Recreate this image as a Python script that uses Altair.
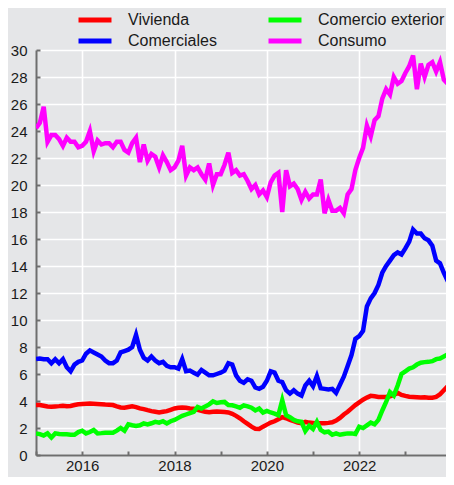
import altair as alt
import pandas as pd

# ---- data (monthly, starting January 2015) ----
start_year = 2015

vivienda = [
    3.7, 3.7, 3.65, 3.6, 3.58, 3.6, 3.62, 3.65, 3.62, 3.63, 3.7, 3.76,
    3.78, 3.8, 3.82, 3.8, 3.78, 3.76, 3.74, 3.73, 3.7, 3.6, 3.52, 3.5,
    3.55, 3.6, 3.55, 3.45, 3.4, 3.32, 3.25, 3.2, 3.15, 3.2, 3.25, 3.35,
    3.45, 3.5, 3.52, 3.5, 3.45, 3.42, 3.35, 3.28, 3.2, 3.17, 3.2, 3.22,
    3.2, 3.18, 3.15, 3.05, 2.9, 2.72, 2.5, 2.3, 2.1, 1.95, 1.93, 2.1,
    2.25, 2.4, 2.5, 2.65, 2.8, 2.72, 2.6, 2.5, 2.4, 2.35, 2.45, 2.4,
    2.38, 2.35, 2.35, 2.36, 2.38, 2.42, 2.55, 2.75, 3.0, 3.2, 3.45, 3.7,
    3.9, 4.1, 4.25, 4.38, 4.35, 4.3, 4.3, 4.3, 4.35, 4.45, 4.6, 4.45,
    4.38, 4.32, 4.3, 4.28, 4.26, 4.28, 4.25, 4.25, 4.3, 4.5, 4.8, 5.1,
    5.0, 4.85,
]

comerciales = [
    7.1, 7.15, 7.1, 7.1, 6.8, 7.1, 6.8, 7.1, 6.5, 6.2, 6.7, 6.9,
    7.0, 7.5, 7.75, 7.6, 7.45, 7.3, 7.0, 6.8, 6.8, 7.0, 7.6, 7.7,
    7.8, 8.0, 8.9, 7.8, 7.2, 7.0, 7.3, 7.0, 6.8, 6.9, 6.6, 6.5,
    6.5, 6.4, 7.1, 6.2, 6.25, 6.1, 5.95, 6.3, 6.1, 5.9, 5.9, 6.0,
    6.1, 6.25, 6.8, 6.7, 5.9, 5.5, 5.35, 5.6, 5.5, 5.0, 4.9, 5.05,
    5.5, 6.2, 6.1, 5.5, 5.4, 4.8, 4.55, 4.8, 4.55, 4.4, 5.15, 5.5,
    5.1, 5.85, 4.95, 4.9, 4.85, 4.9, 4.6, 5.2, 5.8, 6.6, 7.4, 8.6,
    8.8, 9.2, 11.0, 11.6, 12.0, 12.6, 13.5, 14.0, 14.4, 14.8, 15.0, 14.85,
    15.3, 15.8, 16.7, 16.4, 16.4, 16.05, 15.9, 15.5, 14.4, 14.2, 13.5, 12.9,
    12.4, 12.7,
]

consumo = [
    24.2, 24.6, 25.8, 23.2, 23.7, 23.7, 23.4, 22.9, 23.5, 23.2, 23.2, 22.8,
    22.9, 23.2, 24.0, 22.5, 23.3, 23.0, 23.1, 23.1, 22.8, 23.2, 23.2, 22.6,
    22.4, 23.1, 23.5, 21.7, 23.0, 21.8, 22.3, 22.1, 21.3, 22.2, 21.7, 21.1,
    21.3, 21.8, 22.9, 20.7, 21.3, 21.1, 21.3, 20.8, 20.4, 21.6, 20.0, 20.8,
    20.8, 21.5, 22.4, 20.9, 21.1, 20.7, 20.8, 20.3, 19.7, 20.0, 19.3, 19.6,
    19.1, 20.2, 20.7, 20.9, 18.0, 21.1, 19.9, 20.1, 19.7, 18.9, 19.5, 19.0,
    19.3, 19.3, 20.4, 17.9, 18.9, 18.1, 18.1, 18.3, 17.9, 19.3, 19.7, 21.1,
    22.0, 22.75, 24.4, 23.6, 24.8, 25.1, 26.4, 27.1, 26.7, 28.0, 27.5, 27.7,
    28.3, 28.8, 29.6, 27.1, 29.0, 28.0, 28.9, 29.1, 28.4, 29.1, 27.8, 27.5,
    27.7, 28.0,
]

comercio_exterior = [
    1.6, 1.55, 1.44, 1.6, 1.3, 1.6, 1.55, 1.54, 1.53, 1.5, 1.5, 1.7,
    1.8, 1.6, 1.7, 1.85, 1.6, 1.62, 1.65, 1.65, 1.65, 1.8, 2.0, 1.8,
    2.27, 2.2, 2.15, 2.2, 2.34, 2.27, 2.35, 2.46, 2.4, 2.5, 2.34, 2.5,
    2.6, 2.75, 2.9, 3.0, 3.1, 3.2, 3.56, 3.44, 3.6, 3.75, 3.97, 3.85,
    3.9, 3.93, 3.7, 3.68, 3.6, 3.5, 3.68, 3.6, 3.5, 3.3, 3.44, 3.15,
    3.27, 3.15, 3.07, 2.95, 4.05, 2.95, 2.8, 2.6, 2.5, 2.46, 1.78, 2.17,
    1.93, 2.46, 1.85, 1.68, 1.73, 1.5, 1.6, 1.5, 1.55, 1.6, 1.6, 1.55,
    2.1, 2.0, 2.2, 2.4, 2.27, 2.6, 3.3, 3.93, 4.66, 4.4, 5.15, 6.0,
    6.2, 6.4, 6.5, 6.7, 6.84, 6.88, 6.9, 6.95, 7.1, 7.15, 7.3, 7.45,
    7.4, 7.2,
]

# legend fills column by column
legend_order = ["Vivienda", "Comerciales", "Comercio exterior", "Consumo"]
colors = ["#ff0000", "#0000ff", "#00ff00", "#ff00ff"]
year_ticks = list(range(2015, 2025))
y_ticks = list(range(0, 31, 2))

# draw order: green last (on top of red)
series = {
    "Comerciales": comerciales,
    "Consumo": consumo,
    "Vivienda": vivienda,
    "Comercio exterior": comercio_exterior,
}
rows = []
for name, vals in series.items():
    for i, v in enumerate(vals):
        rows.append({"t": start_year + i / 12.0, "serie": name, "valor": v})
df = pd.DataFrame(rows)

BG = "#e5e6e8"
FONT = "Liberation Sans"
AXIS_GREY = "#6e6e6e"

x_scale = alt.Scale(domain=[2015, 2023.88], nice=False, zero=False)
y_scale = alt.Scale(domain=[0, 30], nice=False, zero=False)

lines = alt.Chart(df).mark_line(strokeWidth=4.5, clip=True).encode(
    x=alt.X(
        "t:Q",
        scale=x_scale,
        axis=alt.Axis(
            values=year_ticks,
            title=None,
            ticks=False,
            domain=True,
            domainColor=AXIS_GREY,
            domainWidth=2,
            labelExpr="datum.value % 2 === 0 ? '' + datum.value : ''",
            labelFontSize=15,
            labelColor="#1a1a1a",
            labelPadding=3,
            labelOverlap=False,
            grid=True,
            gridColor="#ffffff",
            gridWidth=1.6,
            gridOpacity={"condition": {"test": "datum.value % 2 === 0", "value": 1}, "value": 0},
        ),
    ),
    y=alt.Y(
        "valor:Q",
        scale=y_scale,
        axis=alt.Axis(
            values=y_ticks,
            title=None,
            ticks=False,
            domain=True,
            domainColor=AXIS_GREY,
            domainWidth=2,
            labelFontSize=15,
            labelColor="#1a1a1a",
            labelPadding=9,
            grid=True,
            gridColor="#ffffff",
            gridWidth=1.6,
        ),
    ),
    color=alt.Color(
        "serie:N",
        scale=alt.Scale(domain=legend_order, range=colors),
        legend=alt.Legend(
            title=None,
            orient="none",
            legendX=48,
            legendY=-41,
            columns=2,
            columnPadding=41,
            rowPadding=0,
            symbolType="M-2,0L2,0",
            symbolSize=272,
            symbolStrokeWidth=5,
            labelFontSize=16,
            labelOffset=22,
            labelColor="#1a1a1a",
            labelLimit=0,
        ),
    ),
)

tick_layer = alt.Chart(df).mark_line(strokeOpacity=0, clip=True).encode(
    x=alt.X(
        "t:Q",
        scale=x_scale,
        axis=alt.Axis(
            values=year_ticks, orient="bottom", offset=-4, tickSize=4, tickWidth=2,
            tickColor=AXIS_GREY, labels=False, domain=False, grid=False, title=None,
        ),
    ),
    y=alt.Y(
        "valor:Q",
        scale=y_scale,
        axis=alt.Axis(
            values=y_ticks, orient="left", offset=-4, tickSize=4, tickWidth=2,
            tickColor=AXIS_GREY, labels=False, domain=False, grid=False, title=None,
        ),
    ),
    detail="serie:N",
)

chart = (
    alt.layer(lines, tick_layer)
    .resolve_axis(x="independent", y="independent")
    .properties(
        width=410,
        height=405,
        autosize=alt.AutoSizeParams(type="none"),
        padding={"left": 28, "top": 42, "right": 0, "bottom": 22},
        background=BG,
    )
    .configure(font=FONT)
    .configure_view(stroke=None)
)

chart.save("out.html", embed_options={"renderer": "svg", "actions": False})
